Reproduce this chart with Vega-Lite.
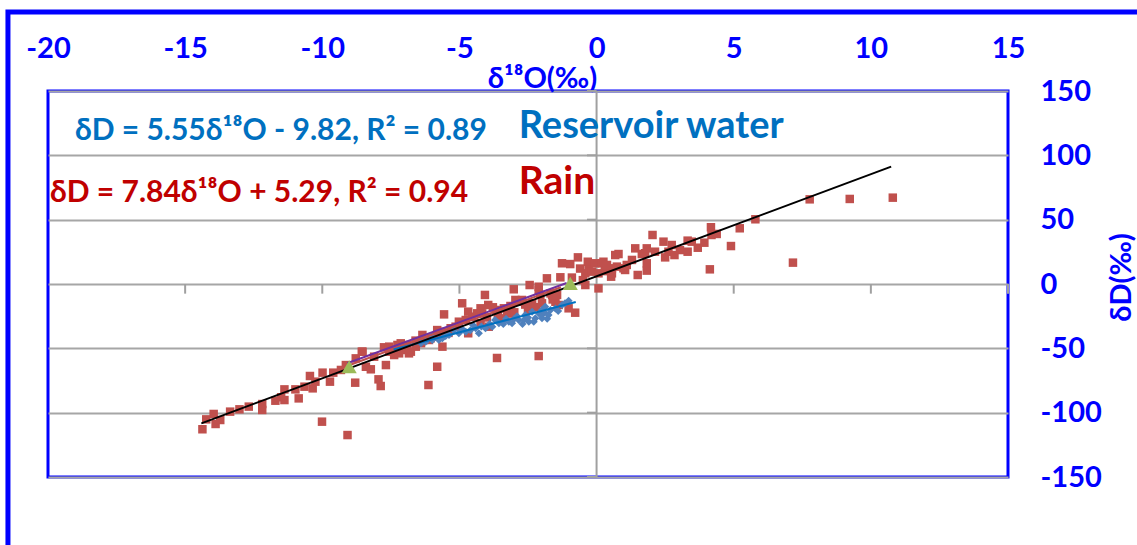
{
  "$schema": "https://vega.github.io/schema/vega-lite/v6.json",
  "width": 960,
  "height": 386,
  "autosize": {"type": "none"},
  "padding": {"left": 48, "top": 91, "right": 129, "bottom": 68},
  "background": "white",
  "config": {
    "view": {"stroke": "#0000FF", "strokeWidth": 3},
    "font": "Lato"
  },
  "datasets": {
    "rain": [
      {"x": -14.37, "y": -112.9}, {"x": -14.23, "y": -105.2}, {"x": -13.96, "y": -101}, {"x": -13.89, "y": -108.8},
      {"x": -13.72, "y": -105.7}, {"x": -13.36, "y": -99.2}, {"x": -13.02, "y": -97.4}, {"x": -12.68, "y": -95.3},
      {"x": -12.19, "y": -93.3}, {"x": -12.19, "y": -97.9}, {"x": -11.71, "y": -90.7}, {"x": -11.5, "y": -88},
      {"x": -11.38, "y": -90.2}, {"x": -11.38, "y": -81.9}, {"x": -10.98, "y": -81.9}, {"x": -10.86, "y": -88.9},
      {"x": -10.65, "y": -79.8}, {"x": -10.35, "y": -81.1}, {"x": -10.45, "y": -71.5}, {"x": -10.25, "y": -75.9},
      {"x": -9.99, "y": -68.9}, {"x": -10.01, "y": -107}, {"x": -9.72, "y": -75.9}, {"x": -9.6, "y": -68.9},
      {"x": -9.32, "y": -66.8}, {"x": -9.14, "y": -63}, {"x": -9.08, "y": -117.4}, {"x": -8.8, "y": -76.7},
      {"x": -8.78, "y": -57.8}, {"x": -8.56, "y": -52.6}, {"x": -8.53, "y": -52.6}, {"x": -8.41, "y": -64.3},
      {"x": -8.23, "y": -66.3}, {"x": -8.11, "y": -56.5}, {"x": -7.95, "y": -74.1}, {"x": -7.87, "y": -79.3},
      {"x": -7.75, "y": -49.2}, {"x": -7.68, "y": -63}, {"x": -7.56, "y": -48.7}, {"x": -7.42, "y": -51.3},
      {"x": -7.26, "y": -47.4}, {"x": -7.56, "y": -52.6}, {"x": -7.38, "y": -55.2}, {"x": -7.14, "y": -46.1},
      {"x": -7.08, "y": -51.3}, {"x": -6.9, "y": -47.4}, {"x": -6.77, "y": -52.6}, {"x": -6.59, "y": -48.7},
      {"x": -6.84, "y": -53.9}, {"x": -7.2, "y": -53.9}, {"x": -6.6, "y": -44}, {"x": -6.4, "y": -46},
      {"x": -6.35, "y": -39.6}, {"x": -6.29, "y": -43.5}, {"x": -6.11, "y": -43.5}, {"x": -6.05, "y": -42.2},
      {"x": -5.9, "y": -41}, {"x": -5.81, "y": -35.8}, {"x": -5.81, "y": -39.6}, {"x": -5.62, "y": -37.1},
      {"x": -5.62, "y": -48.7}, {"x": -5.56, "y": -23.6}, {"x": -5.4, "y": -38}, {"x": -5.32, "y": -34.4},
      {"x": -5.14, "y": -33.2}, {"x": -5.02, "y": -29.3}, {"x": -4.9, "y": -15}, {"x": -4.77, "y": -28},
      {"x": -4.68, "y": -21.5}, {"x": -4.68, "y": -38.3}, {"x": -4.53, "y": -25.4}, {"x": -4.35, "y": -22.8},
      {"x": -4.23, "y": -18.9}, {"x": -4.23, "y": -30.5}, {"x": -4.17, "y": -22.8}, {"x": -4.07, "y": -8.5},
      {"x": -4.0, "y": -26}, {"x": -3.95, "y": -16.3}, {"x": -3.93, "y": -33.2}, {"x": -3.78, "y": -18.1},
      {"x": -3.68, "y": -20.2}, {"x": -3.6, "y": -24}, {"x": -3.44, "y": -26.7}, {"x": -3.38, "y": -18.9},
      {"x": -3.26, "y": -21.5}, {"x": -3.2, "y": -23}, {"x": -3.14, "y": -17.1}, {"x": -3.02, "y": -4.1},
      {"x": -3.0, "y": -22}, {"x": -2.96, "y": -12.4}, {"x": -2.9, "y": -13.8}, {"x": -2.72, "y": -12.4},
      {"x": -2.6, "y": -16}, {"x": -2.5, "y": -20}, {"x": -2.35, "y": -15}, {"x": -2.2, "y": -18},
      {"x": -5.81, "y": -64.3}, {"x": -6.13, "y": -78.5}, {"x": -3.63, "y": -57.5}, {"x": -2.11, "y": -56},
      {"x": -2.44, "y": -0.8}, {"x": -2.11, "y": -4.7}, {"x": -2.11, "y": -2.1}, {"x": -2.05, "y": -8.5},
      {"x": -1.99, "y": -15}, {"x": -1.81, "y": 4.4}, {"x": -1.68, "y": -7.3}, {"x": -1.62, "y": -8.5},
      {"x": -1.6, "y": -12}, {"x": -1.5, "y": -13.8}, {"x": -1.44, "y": -8.5}, {"x": -1.38, "y": -16.3},
      {"x": -1.32, "y": 5.2}, {"x": -1.26, "y": 16.1}, {"x": -1.02, "y": -18.9}, {"x": -0.96, "y": 15.5},
      {"x": -0.9, "y": 5}, {"x": -0.78, "y": -22.3}, {"x": -0.68, "y": 20.7}, {"x": -0.6, "y": 12},
      {"x": -0.5, "y": 3}, {"x": -0.41, "y": -0.8}, {"x": -0.41, "y": 8.3}, {"x": -0.32, "y": 17.3},
      {"x": -0.29, "y": 10.9}, {"x": -0.17, "y": 9.6}, {"x": -0.05, "y": 16.1}, {"x": 0.07, "y": 8.3},
      {"x": 0.07, "y": -3.4}, {"x": 0.19, "y": 16.1}, {"x": 0.25, "y": 17.3}, {"x": 0.3, "y": 10},
      {"x": 0.38, "y": 14.8}, {"x": 0.53, "y": 5.7}, {"x": 0.56, "y": 12.2}, {"x": 0.56, "y": 8.3},
      {"x": 0.68, "y": 22.5}, {"x": 0.74, "y": 13.5}, {"x": 0.8, "y": 23.3}, {"x": 0.98, "y": 12.2},
      {"x": 1.04, "y": 10.9}, {"x": 1.1, "y": 14.8}, {"x": 1.29, "y": 18.7}, {"x": 1.41, "y": 27.7},
      {"x": 1.5, "y": 7}, {"x": 1.65, "y": 23.3}, {"x": 1.77, "y": 23.9}, {"x": 1.83, "y": 27.7},
      {"x": 1.83, "y": 16.1}, {"x": 1.83, "y": 10.4}, {"x": 2.04, "y": 38.1}, {"x": 2.13, "y": 25.1},
      {"x": 2.44, "y": 32.9}, {"x": 2.5, "y": 20.7}, {"x": 2.62, "y": 25.1}, {"x": 2.74, "y": 30.3},
      {"x": 2.84, "y": 22.5}, {"x": 3.04, "y": 26.4}, {"x": 3.32, "y": 25.1}, {"x": 3.32, "y": 33.7},
      {"x": 3.47, "y": 32.9}, {"x": 3.69, "y": 28.2}, {"x": 3.93, "y": 32.1}, {"x": 4.13, "y": 11.4},
      {"x": 4.17, "y": 44.1}, {"x": 4.19, "y": 38.1}, {"x": 4.38, "y": 38.9}, {"x": 4.9, "y": 29.5},
      {"x": 5.22, "y": 43.3}, {"x": 5.79, "y": 50.3}, {"x": 7.16, "y": 16.6}, {"x": 7.77, "y": 65.8},
      {"x": 9.23, "y": 66.1}, {"x": 10.8, "y": 67.1}
    ],
    "reservoir": [
      {"x": -6.4, "y": -46}, {"x": -6.23, "y": -44.8}, {"x": -6.0, "y": -41}, {"x": -5.99, "y": -43.5},
      {"x": -5.75, "y": -43.5}, {"x": -5.62, "y": -42.2}, {"x": -5.5, "y": -40.5}, {"x": -5.38, "y": -39.6},
      {"x": -5.2, "y": -36}, {"x": -5.02, "y": -38.3}, {"x": -4.9, "y": -35}, {"x": -4.77, "y": -37.1},
      {"x": -4.6, "y": -36}, {"x": -4.5, "y": -32}, {"x": -4.41, "y": -34.4}, {"x": -4.29, "y": -38.3},
      {"x": -4.2, "y": -33}, {"x": -4.05, "y": -34.4}, {"x": -3.9, "y": -31}, {"x": -3.8, "y": -33.2},
      {"x": -3.7, "y": -28}, {"x": -3.56, "y": -30.5}, {"x": -3.4, "y": -31}, {"x": -3.3, "y": -27},
      {"x": -3.2, "y": -29.3}, {"x": -3.08, "y": -30.5}, {"x": -3.0, "y": -27}, {"x": -2.9, "y": -25},
      {"x": -2.84, "y": -28}, {"x": -2.7, "y": -31}, {"x": -2.65, "y": -28}, {"x": -2.6, "y": -24},
      {"x": -2.5, "y": -26}, {"x": -2.47, "y": -29.3}, {"x": -2.35, "y": -21.5}, {"x": -2.29, "y": -29.3},
      {"x": -2.23, "y": -26.7}, {"x": -2.1, "y": -23}, {"x": -1.99, "y": -26.7}, {"x": -1.99, "y": -24.1},
      {"x": -1.99, "y": -20.2}, {"x": -1.9, "y": -22}, {"x": -1.87, "y": -17.6}, {"x": -1.8, "y": -27},
      {"x": -1.75, "y": -24.1}, {"x": -1.68, "y": -20.2}, {"x": -1.5, "y": -19}, {"x": -1.4, "y": -21},
      {"x": -1.26, "y": -16.3}, {"x": -1.15, "y": -15}, {"x": -1.02, "y": -13}
    ],
    "other": [
      {"x": -9.02, "y": -64.3}, {"x": -0.96, "y": 0.5}
    ],
    "lines": [
      {"series": "purple", "x": -9.09, "y": -61.6}, {"series": "purple", "x": -1.09, "y": 0.8},
      {"series": "red", "x": -9.0, "y": -63.0}, {"series": "red", "x": -1.3, "y": -2.5},
      {"series": "blue", "x": -7.4, "y": -50.9}, {"series": "blue", "x": -0.76, "y": -14.0},
      {"series": "black", "x": -14.41, "y": -108.3}, {"series": "black", "x": 10.74, "y": 91.2}
    ],
    "xticks": [{"x": -15}, {"x": -10}, {"x": -5}, {"x": 5}, {"x": 10}, {"x": 15}],
    "yticks": [{"y": 150}, {"y": 100}, {"y": 50}, {"y": -50}, {"y": -100}, {"y": -150}]
  },
  "layer": [
    {
      "data": {"name": "xticks"},
      "mark": {"type": "rule", "color": "#a0a0a0", "strokeWidth": 2},
      "encoding": {
        "x": {
          "field": "x", "type": "quantitative",
          "scale": {"domain": [-20, 15], "nice": false, "zero": false},
          "axis": {
            "orient": "top", "title": "δ¹⁸O(‰)", "values": [-20, -15, -10, -5, 0, 5, 10, 15],
            "domain": false, "ticks": false, "tickSize": 0, "grid": false,
            "labelExpr": "toString(datum.value)", "labelFlush": false, "labelOverlap": false, "labelBound": false,
            "labelFont": "Lato", "labelFontSize": 29, "labelFontWeight": "bold", "labelColor": "#0000FF",
            "labelBaseline": "alphabetic", "labelPadding": 34,
            "titleFont": "Lato", "titleFontSize": 29, "titleFontWeight": "bold", "titleColor": "#0000FF",
            "titleX": 494, "titleY": -13, "titleAlign": "center", "titleBaseline": "middle", "titleAnchor": null
          }
        },
        "y": {
          "datum": 0, "type": "quantitative",
          "scale": {"domain": [-150, 150], "nice": false, "zero": false},
          "axis": {
            "orient": "right", "title": "δD(‰)", "values": [-150, -100, -50, 0, 50, 100, 150],
            "domain": false, "ticks": false, "tickSize": 0, "grid": true,
            "gridColor": "#a6a6a6", "gridWidth": 2,
            "labelExpr": "toString(datum.value)", "labelFlush": false, "labelOverlap": false, "labelBound": false,
            "labelFont": "Lato", "labelFontSize": 29, "labelFontWeight": "bold", "labelColor": "#0000FF",
            "labelAlign": "left", "labelBaseline": "middle", "labelPadding": 32,
            "titleFont": "Lato", "titleFontSize": 29, "titleFontWeight": "bold", "titleColor": "#0000FF",
            "titleAngle": 270, "titleX": 113, "titleY": 186, "titleAlign": "center", "titleBaseline": "middle", "titleAnchor": null
          }
        },
        "y2": {"datum": -7.5}
      }
    },
    {
      "data": {"name": "yticks"},
      "mark": {"type": "rule", "color": "#a0a0a0", "strokeWidth": 2},
      "encoding": {
        "y": {"field": "y", "type": "quantitative"},
        "x": {"datum": 0, "type": "quantitative"},
        "x2": {"datum": -0.35}
      }
    },
    {
      "data": {"values": [{"x": 0}]},
      "mark": {"type": "rule", "color": "#a0a0a0", "strokeWidth": 2},
      "encoding": {"x": {"field": "x", "type": "quantitative"}}
    },
    {
      "data": {"name": "rain"},
      "mark": {"type": "point", "shape": "square", "filled": true, "opacity": 1, "color": "#C0504D", "size": 72},
      "encoding": {
        "x": {"field": "x", "type": "quantitative"},
        "y": {"field": "y", "type": "quantitative"}
      }
    },
    {
      "data": {"name": "reservoir"},
      "mark": {"type": "point", "shape": "diamond", "filled": true, "opacity": 1, "color": "#4F81BD", "size": 64},
      "encoding": {
        "x": {"field": "x", "type": "quantitative"},
        "y": {"field": "y", "type": "quantitative"}
      }
    },
    {
      "data": {"name": "lines"},
      "mark": {"type": "line", "strokeWidth": 2},
      "encoding": {
        "x": {"field": "x", "type": "quantitative"},
        "y": {"field": "y", "type": "quantitative"},
        "detail": {"field": "series"},
        "order": {"field": "x"},
        "color": {
          "field": "series", "type": "nominal", "legend": null,
          "scale": {"domain": ["purple", "red", "blue", "black"], "range": ["#7030A0", "#C0504D", "#0070C0", "#000000"]}
        }
      }
    },
    {
      "data": {"name": "other"},
      "mark": {"type": "point", "shape": "triangle-up", "filled": true, "opacity": 1, "color": "#9BBB59", "size": 230},
      "encoding": {
        "x": {"field": "x", "type": "quantitative"},
        "y": {"field": "y", "type": "quantitative"}
      }
    },
    {
      "data": {"values": [{}]},
      "mark": {"type": "text", "align": "left", "baseline": "middle", "font": "Lato", "fontSize": 30, "fontWeight": "bold", "color": "#0070C0"},
      "encoding": {
        "x": {"datum": -19.02, "type": "quantitative"},
        "y": {"datum": 118.9, "type": "quantitative"},
        "text": {"value": "δD = 5.55δ¹⁸O - 9.82, R² = 0.89"}
      }
    },
    {
      "data": {"values": [{}]},
      "mark": {"type": "text", "align": "left", "baseline": "middle", "font": "Lato", "fontSize": 30, "fontWeight": "bold", "color": "#C00000"},
      "encoding": {
        "x": {"datum": -19.93, "type": "quantitative"},
        "y": {"datum": 70.7, "type": "quantitative"},
        "text": {"value": "δD = 7.84δ¹⁸O + 5.29, R² = 0.94"}
      }
    },
    {
      "data": {"values": [{}]},
      "mark": {"type": "text", "align": "left", "baseline": "middle", "font": "Lato", "fontSize": 38, "fontWeight": "bold", "color": "#0070C0"},
      "encoding": {
        "x": {"datum": -2.84, "type": "quantitative"},
        "y": {"datum": 122, "type": "quantitative"},
        "text": {"value": "Reservoir water"}
      }
    },
    {
      "data": {"values": [{}]},
      "mark": {"type": "text", "align": "left", "baseline": "middle", "font": "Lato", "fontSize": 39, "fontWeight": "bold", "color": "#C00000"},
      "encoding": {
        "x": {"datum": -2.84, "type": "quantitative"},
        "y": {"datum": 79.3, "type": "quantitative"},
        "text": {"value": "Rain"}
      }
    },
    {
      "data": {"values": [{}]},
      "mark": {"type": "rect", "filled": false, "stroke": "#0000FF", "strokeWidth": 5},
      "encoding": {
        "x": {"datum": -21.46, "type": "quantitative"},
        "x2": {"datum": 21},
        "y": {"datum": 211.4, "type": "quantitative"},
        "y2": {"datum": -215}
      }
    }
  ]
}
